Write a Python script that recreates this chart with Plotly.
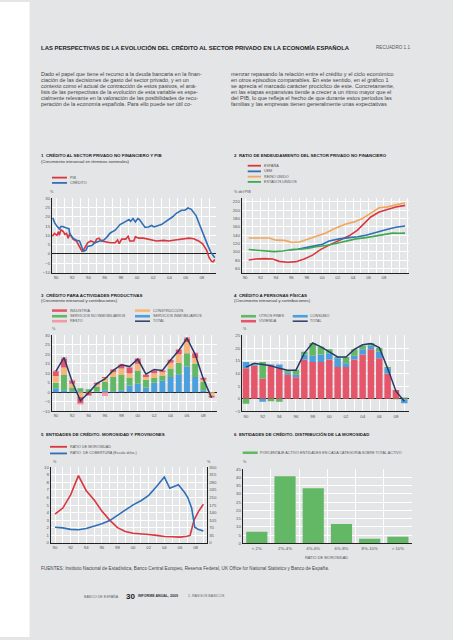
import plotly.graph_objects as go

W, H = 453, 640
def X(px): return px / W
def Y(py): return 1 - py / H

BG = "#e4e5e7"
FONT = "Liberation Sans, Arial, sans-serif"
TXT = "#333333"
TICK = "#555555"
RED = "#d9363e"
BLUE = "#2e6fb5"
ORANGE = "#f2a65a"
GREEN = "#3fa94e"
NAVY = "#2b3a67"
B_BLUE = "#4a9fdc"
B_GREEN = "#62b865"
B_ORANGE = "#f6b679"
B_RED = "#e5566b"
B_PINK = "#f29aa8"

# ---------------- Chart 1 data ----------------
c1_pib_x = [1989.55, 1989.8, 1990.1, 1990.3, 1990.4, 1990.6, 1990.9, 1991.1, 1991.3, 1991.5, 1991.7,
            1992.1, 1992.5, 1992.7, 1993.0, 1993.2, 1993.4, 1993.6, 1993.9, 1994.3, 1994.5, 1994.8,
            1995.0, 1995.3, 1995.6, 1996.1, 1996.7, 1997.3, 1997.6, 1997.8, 1998.1, 1998.6, 1998.9,
            1999.1, 1999.6, 1999.8, 2000.2, 2000.8, 2001.4, 2001.8, 2002.4, 2003.3, 2003.9, 2004.7,
            2005.5, 2006.4, 2007.0, 2007.6, 2008.1, 2008.6, 2008.9, 2009.2, 2009.4, 2009.6]
c1_pib = [9.5, 11, 10, 12, 10, 13, 12, 10.5, 11, 8.5, 11,
          8, 7, 5.5, 2.5, 1.5, 2.2, 4, 6, 7, 6.5, 6,
          8, 8.5, 7, 6.5, 6, 6, 7.5, 5.5, 8, 8, 9.5,
          7, 7, 9.3, 8.5, 8.5, 8, 7.5, 7, 7.3, 7, 7.5,
          8, 8.5, 8.2, 7, 5.5, 2, -2, -4, -4.2, -3]
c1_cred_x = [1989.6, 1989.8, 1990.1, 1990.4, 1990.6, 1990.8, 1991.3, 1991.6, 1991.7, 1992.1, 1992.6,
             1992.9, 1993.2, 1993.4, 1993.7, 1993.9, 1994.4, 1994.8, 1995.4, 1995.9, 1996.3, 1996.7,
             1997.3, 1997.9, 1998.4, 1999.0, 1999.2, 1999.5, 1999.8, 2000.1, 2000.3, 2001.0, 2001.4,
             2001.8, 2002.1, 2002.4, 2003.0, 2003.4, 2003.9, 2004.4, 2004.9, 2005.5, 2005.9, 2006.3,
             2006.7, 2007.3, 2007.7, 2008.2, 2008.7, 2009.1, 2009.5, 2009.6]
c1_cred = [19.5, 17, 15, 13.5, 14.8, 14.8, 14, 13.5, 10.5, 8.5, 7.2,
           7, 3.5, 1.5, 2, 4, 4.5, 6, 7, 7.5, 9.2, 11.3,
           12.8, 15.8, 17, 18.5, 17.5, 19, 17.2, 19, 18.5, 14.3, 14.5,
           15.3, 14.5, 15, 15.8, 17, 18.5, 20, 22, 23.5, 23.5, 24.7,
           24, 20.5, 16, 10, 5, 1, -1.5, -2]

# ---------------- Chart 2 data ----------------
c2_esp_x = [1990.47, 1991.42, 1992.5, 1993.58, 1994.44, 1995.52, 1996.59, 1997.67, 1998.75, 1999.83,
            2000.9, 2002.2, 2003.49, 2004.57, 2005.43, 2006.29, 2007.37, 2008.45, 2009.53, 2010.73]
c2_esp = [80.3, 82.7, 83.5, 82.7, 77, 74.7, 76.3, 82.7, 92, 105.8,
          116, 128, 138.4, 152, 168, 183.8, 195.8, 202, 207.7, 211.7]
c2_uem_x = [1995.73, 1996.81, 1997.89, 1998.97, 2000.04, 2000.9, 2002.2, 2003.49, 2004.57, 2005.65,
            2006.94, 2008.23, 2009.53, 2010.73]
c2_uem = [105, 106, 110, 114, 118, 126, 131, 134, 136, 140, 147, 153, 159, 162]
c2_uk_x = [1990.47, 1991.85, 1993.15, 1994.0, 1995.09, 1996.16, 1997.03, 1998.1, 1999.18, 2000.47,
           2001.77, 2003.06, 2004.14, 2005.22, 2006.29, 2007.37, 2008.45, 2009.53, 2010.73]
c2_uk = [133, 133.5, 133, 128, 127.5, 122.5, 123.5, 130, 136, 145,
         157, 167, 172, 180, 193, 206, 208, 213, 218]
c2_us_x = [1990.47, 1991.64, 1992.72, 1993.79, 1994.87, 1995.95, 1997.03, 1998.1, 1999.18, 2000.47,
           2001.77, 2003.06, 2004.35, 2005.65, 2006.94, 2008.23, 2009.09, 2009.96, 2010.73]
c2_us = [105.5, 104, 101, 100.5, 102, 105, 106, 108, 112, 115,
         120, 125, 131, 134, 138, 143, 145, 144.5, 145]

# ---------------- Chart 3 data ----------------
years = list(range(1990, 2010))
c3_serv_inmob = [2.0, 1.0, 0.5, 0.5, 0.0, 0.3, 1.0, 0.5, 1.0, 3.5, 4.5, 2.5, 5.0, 6.0, 8.0, 9.5, 13.5, 8.0, 1.0, 0.0]
c3_serv_no_inmob = [3.0, 8.0, 2.0, 1.5, 1.5, 2.5, 4.5, 7.5, 8.0, 4.0, 7.0, 4.0, 2.5, 2.5, 4.5, 6.0, 7.0, 7.0, 4.5, 0.0]
c3_construccion = [3.5, 4.0, 2.0, -2.5, 0.0, 1.2, 2.0, 2.5, 3.5, 2.5, 3.5, 1.5, 2.5, 2.0, 3.0, 4.5, 6.0, 3.0, 1.0, -2.0]
c3_industria = [2.5, 4.5, 1.5, -3.5, -1.5, 1.0, 0.5, 1.5, 2.0, 3.0, 2.5, 1.0, 1.5, 1.0, 1.5, 2.3, 2.0, 2.5, 1.0, -0.8]
c3_resto = [0.5, 1.0, 0.5, -0.5, -0.5, 0.3, -2.0, 0.3, 0.5, 0.5, 0.5, 0.3, 0.3, 0.3, 0.3, 0.5, 0.5, 0.5, 0.3, -0.2]
c3_total = [11, 18.3, 5.5, -4.5, -0.3, 4.5, 7, 11.5, 14.5, 13.5, 17.5, 9.5, 12, 11.5, 17, 22, 28.5, 20, 7, -3]

# ---------------- Chart 4 data ----------------
c4_vivienda = [12, 13, 8, 13, 12, 9.5, 8.5, 15.5, 14.5, 14.5, 15.5, 12.5, 12.5, 15.5, 17.5, 19.5, 16, 10, 3.5, -0.3]
c4_consumo = [2.5, 0.5, -1.2, 0.5, 1.5, 0.8, 1.0, 2.0, 2.5, 3.0, 2.5, 3.5, 1.5, 1.5, 2.0, 1.5, 2.5, 2.0, 0.0, -1.5]
c4_otros = [-2.0, 0.5, 6.5, -1.0, -1.2, 1.0, 2.0, 1.0, 5.0, 3.0, 1.5, 0.5, 2.5, 2.5, 1.5, 1.0, 1.5, 0.5, -0.2, 0.5]
c4_total = [12.5, 14, 13.5, 13, 12, 11.3, 11.3, 18, 22, 20.5, 18.5, 16.5, 16.5, 19.5, 21.3, 21.8, 20.2, 12, 3, -1]

# ---------------- Chart 5 data ----------------
c5_mor_x = [1990, 1991, 1992, 1993, 1994, 1995, 1996, 1997, 1998, 1999, 2000, 2001, 2002, 2003,
            2004, 2005, 2006, 2006.9, 2007.3, 2007.8, 2008.4, 2009.0]
c5_mor = [3.8, 4.6, 6.35, 8.9, 6.9, 5.7, 4.2, 3.0, 2.0, 1.5, 1.25, 1.2, 1.1, 0.98,
          0.82, 0.8, 0.75, 0.85, 0.97, 3.0, 4.2, 5.1]
c5_cob_x = [1990, 1991, 1992, 1993, 1994, 1995, 1996, 1997, 1998, 1999, 2000, 2001, 2002, 2003,
            2004, 2004.7, 2005.8, 2006.6, 2007.0, 2007.5, 2007.9, 2008.3, 2009.0]
c5_cob = [72, 69, 62, 60, 66, 77, 88, 103, 127, 152, 176, 195, 220, 261,
          305, 253, 269, 233, 210, 160, 72, 63, 54]

# ---------------- Chart 6 data ----------------
c6_cats = ["< 2%", "2%-4%", "4%-6%", "6%-8%", "8%-10%", "> 10%"]
c6_vals = [7.0, 40.6, 33.4, 11.8, 2.8, 4.0]

x_labels_years = [1990, 1992, 1994, 1996, 1998, 2000, 2002, 2004, 2006, 2008]
x_labels_text = ["90", "92", "94", "96", "98", "00", "02", "04", "06", "08"]

fig = go.Figure()

# traces
fig.add_trace(go.Scatter(x=c1_pib_x, y=c1_pib, mode="lines", line=dict(color=RED, width=1.6), xaxis="x", yaxis="y"))
fig.add_trace(go.Scatter(x=c1_cred_x, y=c1_cred, mode="lines", line=dict(color=BLUE, width=1.6), xaxis="x", yaxis="y"))

fig.add_trace(go.Scatter(x=c2_esp_x, y=c2_esp, mode="lines", line=dict(color=RED, width=1.6), xaxis="x2", yaxis="y2"))
fig.add_trace(go.Scatter(x=c2_uem_x, y=c2_uem, mode="lines", line=dict(color=BLUE, width=1.6), xaxis="x2", yaxis="y2"))
fig.add_trace(go.Scatter(x=c2_uk_x, y=c2_uk, mode="lines", line=dict(color=ORANGE, width=1.6), xaxis="x2", yaxis="y2"))
fig.add_trace(go.Scatter(x=c2_us_x, y=c2_us, mode="lines", line=dict(color=GREEN, width=1.6), xaxis="x2", yaxis="y2"))

for vals, col in [(c3_serv_inmob, B_BLUE), (c3_serv_no_inmob, B_GREEN), (c3_construccion, B_ORANGE),
                  (c3_industria, B_RED), (c3_resto, B_PINK)]:
    fig.add_trace(go.Bar(x=years, y=vals, marker=dict(color=col, line=dict(width=0)), width=0.72,
                         xaxis="x3", yaxis="y3"))
fig.add_trace(go.Scatter(x=years, y=c3_total, mode="lines", line=dict(color=NAVY, width=1.5), xaxis="x3", yaxis="y3"))

for vals, col in [(c4_vivienda, B_RED), (c4_consumo, B_BLUE), (c4_otros, B_GREEN)]:
    fig.add_trace(go.Bar(x=years, y=vals, marker=dict(color=col, line=dict(width=0)), width=0.78,
                         xaxis="x4", yaxis="y4"))
fig.add_trace(go.Scatter(x=years, y=c4_total, mode="lines", line=dict(color=NAVY, width=1.5), xaxis="x4", yaxis="y4"))

fig.add_trace(go.Scatter(x=c5_mor_x, y=c5_mor, mode="lines", line=dict(color=RED, width=1.6), xaxis="x5", yaxis="y5"))
fig.add_trace(go.Scatter(x=c5_cob_x, y=c5_cob, mode="lines", line=dict(color=BLUE, width=1.6), xaxis="x5", yaxis="y7"))

fig.add_trace(go.Bar(x=c6_cats, y=c6_vals, marker=dict(color=B_GREEN, line=dict(width=0)), width=0.75,
                     xaxis="x6", yaxis="y6"))

tickfont = dict(family=FONT, size=4.3, color=TICK)

def xax(dom, rng, anchor, tv=None, tt=None, minor=True):
    d = dict(domain=[X(dom[0]), X(dom[1])], range=rng, anchor=anchor, showgrid=True, gridcolor="white",
             gridwidth=1, showline=True, linecolor="#222", linewidth=1, zeroline=False, ticks="",
             tickfont=tickfont, fixedrange=True)
    if tv is not None:
        d.update(tickmode="array", tickvals=tv, ticktext=tt)
    if minor:
        d["minor"] = dict(tick0=1990, dtick=1, showgrid=True, gridcolor="white", gridwidth=1, ticks="")
    return d

def yax(dom, rng, dtick, anchor, zero=False):
    return dict(domain=[Y(dom[1]), Y(dom[0])], range=rng, dtick=dtick, anchor=anchor, showgrid=True,
                gridcolor="white", gridwidth=1, showline=True, linecolor="#222", linewidth=1,
                zeroline=zero, zerolinecolor="#222", zerolinewidth=1, ticks="", tickfont=tickfont,
                fixedrange=True)

layout = dict(
    width=W, height=H, margin=dict(l=0, r=0, t=0, b=0), autosize=False,
    paper_bgcolor=BG, plot_bgcolor=BG, showlegend=False, barmode="relative", bargap=0.25,
    font=dict(family=FONT, color=TXT),
    xaxis=xax((52, 216), [1989.5, 2009.75], "y", x_labels_years, x_labels_text),
    yaxis=yax((197.7, 272.7), [-10, 30], 5, "x", zero=True),
    xaxis2=xax((241.7, 408.7), [1989.57, 2011.2], "y2", x_labels_years, x_labels_text),
    yaxis2=yax((197.3, 272.7), [50, 230], 20, "x2"),
    xaxis3=xax((51.7, 217.3), [1989.5, 2009.7], "y3", x_labels_years, x_labels_text),
    yaxis3=yax((336, 412.3), [-10, 30], 5, "x3", zero=True),
    xaxis4=xax((242, 408.7), [1989.52, 2009.53], "y4", x_labels_years, x_labels_text),
    yaxis4=yax((336, 412.7), [-5, 25], 5, "x4", zero=True),
    xaxis5=xax((50.7, 207.3), [1989.45, 2009.5], "y5", x_labels_years, x_labels_text),
    yaxis5=yax((469, 545), [0, 10], 1, "x5"),
    xaxis6=dict(domain=[X(242.7), X(412)], type="category", range=[-0.5, 5.5], anchor="y6",
                showgrid=True, gridcolor="white", gridwidth=1, tickson="boundaries", showline=True,
                linecolor="#222", linewidth=1, ticks="", tickfont=tickfont, fixedrange=True),
    yaxis6=yax((470.7, 545.7), [0, 45], 5, "x6"),
)
layout["yaxis7"] = dict(overlaying="y5", side="right", anchor="x5", range=[0, 350], tickmode="array",
                        tickvals=[0, 35, 70, 105, 140, 175, 210, 245, 280, 315, 350], showgrid=False,
                        showline=True, linecolor="#222", linewidth=1, zeroline=False, ticks="",
                        tickfont=tickfont, fixedrange=True)
fig.update_layout(**layout)

ann = []
shapes = []

def text(x, y, s, size, color=TXT, bold=False, xanchor="left"):
    ann.append(dict(x=X(x), y=Y(y), xref="paper", yref="paper", text=("<b>%s</b>" % s) if bold else s,
                    showarrow=False, xanchor=xanchor, yanchor="middle",
                    font=dict(family=FONT, size=size, color=color), borderpad=0))

def lsw(x0, x1, y, color, w=1.8):
    shapes.append(dict(type="line", xref="paper", yref="paper", x0=X(x0), x1=X(x1), y0=Y(y), y1=Y(y),
                       line=dict(color=color, width=w)))

def bsw(x0, x1, y, color):
    shapes.append(dict(type="rect", xref="paper", yref="paper", x0=X(x0), x1=X(x1), y0=Y(y - 1.3),
                       y1=Y(y + 1.3), fillcolor=color, line=dict(width=0)))

# white margin strip
shapes.append(dict(type="rect", xref="paper", yref="paper", x0=0, x1=X(29.5), y0=0, y1=1,
                   fillcolor="white", line=dict(width=0), layer="below"))

# header
text(40, 45.7, "LAS PERSPECTIVAS DE LA EVOLUCIÓN DEL CRÉDITO AL SECTOR PRIVADO EN LA ECONOMÍA ESPAÑOLA", 5.95, "#222", True)
text(410.7, 45.7, "RECUADRO 1.1", 4.6, "#555", xanchor="right")

left_lines = [
    "Dado el papel que tiene el recurso a la deuda bancaria en la finan-",
    "ciación de las decisiones de gasto del sector privado, y en un",
    "contexto como el actual de contracción de estos pasivos, el aná-",
    "lisis de las perspectivas de la evolución de esta variable es espe-",
    "cialmente relevante en la valoración de las posibilidades de recu-",
    "peración de la economía española. Para ello puede ser útil co-",
]
right_lines = [
    "menzar repasando la relación entre el crédito y el ciclo económico",
    "en otros episodios comparables. En este sentido, en el gráfico 1",
    "se aprecia el marcado carácter procíclico de este. Concretamente,",
    "en las etapas expansivas tiende a crecer a un ritmo mayor que el",
    "del PIB, lo que refleja el hecho de que durante estos períodos las",
    "familias y las empresas tienen generalmente unas expectativas",
]
for i, s in enumerate(left_lines):
    text(40, 72.7 + i * 6.07, s, 5.45, "#444")
for i, s in enumerate(right_lines):
    text(230, 72.7 + i * 6.07, s, 5.55, "#444")

# chart 1
text(40, 155, "1  CRÉDITO AL SECTOR PRIVADO NO FINANCIERO Y PIB", 4.4, "#222", True)
text(40, 160.5, "(Crecimiento interanual en términos nominales)", 4.2, "#333")
lsw(52, 67, 177, RED); text(69, 177, "PIB", 3.7, "#555")
lsw(52, 67, 182.3, BLUE); text(69, 182.3, "CRÉDITO", 3.7, "#555")
text(49, 191.7, "%", 3.8, "#555")

# chart 2
text(232.7, 155, "2  RATIO DE ENDEUDAMIENTO DEL SECTOR PRIVADO NO FINANCIERO", 4.4, "#222", True)
for yy, col, lab in [(165, RED, "ESPAÑA"), (170.7, BLUE, "UEM"), (176, ORANGE, "REINO UNIDO"), (181.3, GREEN, "ESTADOS UNIDOS")]:
    lsw(247.7, 261, yy, col); text(263.3, yy, lab, 3.7, "#555")
text(233.3, 191.7, "% del PIB", 3.8, "#555")

# chart 3
text(40, 295.7, "3  CRÉDITO PARA ACTIVIDADES PRODUCTIVAS", 4.4, "#222", True)
text(40, 300.5, "(Crecimiento interanual y contribuciones)", 4.2, "#333")
bsw(52, 67, 311, B_RED); text(69, 311, "INDUSTRIA", 3.7, "#555")
bsw(135, 150, 311, B_ORANGE); text(151.7, 311, "CONSTRUCCIÓN", 3.7, "#555")
bsw(52, 67, 316.7, B_GREEN); text(69, 316.7, "SERVICIOS NO INMOBILIARIOS", 3.7, "#555")
bsw(135, 150, 316.7, B_BLUE); text(151.7, 316.7, "SERVICIOS INMOBILIARIOS", 3.7, "#555")
bsw(52, 67, 321.7, B_PINK); text(69, 321.7, "RESTO", 3.7, "#555")
lsw(135, 150, 321.7, NAVY, 1.5); text(151.7, 321.7, "TOTAL", 3.7, "#555")
text(51, 330, "%", 3.8, "#555")

# chart 4
text(232.7, 295.7, "4  CRÉDITO A PERSONAS FÍSICAS", 4.4, "#222", True)
text(232.7, 300.5, "(Crecimiento interanual y contribuciones)", 4.2, "#333")
bsw(241, 256, 316.7, B_GREEN); text(258.3, 316.7, "OTROS FINES", 3.7, "#555")
bsw(292.7, 307.7, 316.7, B_BLUE); text(309.3, 316.7, "CONSUMO", 3.7, "#555")
bsw(241, 256, 321.7, B_RED); text(258.3, 321.7, "VIVIENDA", 3.7, "#555")
lsw(292.7, 307.7, 321.7, NAVY, 1.5); text(309.3, 321.7, "TOTAL", 3.7, "#555")
text(241.7, 330, "%", 3.8, "#555")

# chart 5
text(40, 435.7, "5  ENTIDADES DE CRÉDITO. MOROSIDAD Y PROVISIONES", 4.4, "#222", True)
lsw(50, 67, 448.3, RED); text(68.5, 448.3, "RATIO DE MOROSIDAD", 3.7, "#555")
lsw(50, 67, 455, BLUE); text(68.5, 455, "RATIO  DE COBERTURA (Escala dcha.)", 3.7, "#555")
text(51.7, 464, "%", 3.8, "#555")
text(206, 464, "%", 3.8, "#555")

# chart 6
text(232.7, 435.7, "6  ENTIDADES DE CRÉDITO. DISTRIBUCIÓN DE LA MOROSIDAD", 4.4, "#222", True)
bsw(242.7, 257.7, 454.3, B_GREEN)
text(259.3, 454.3, "PORCENTAJE ACTIVO ENTIDADES EN CADA CATEGORÍA SOBRE TOTAL ACTIVO", 3.7, "#555")
text(241.7, 464, "%", 3.8, "#555")
text(326, 560, "RATIO DE MOROSIDAD", 3.9, "#555", xanchor="center")

# sources and footer
text(40, 571, "FUENTES: Instituto Nacional de Estadística, Banco Central Europeo, Reserva Federal, UK Office for National Statistics y Banco de España.", 4.65, "#444")
text(83.3, 599, "BANCO DE ESPAÑA", 3.6, "#666")
text(124.5, 599, "30", 8, "#222", True)
text(136.7, 599, "INFORME ANUAL, 2009", 3.6, "#333", True)
text(186.7, 599, "1. RASGOS BÁSICOS", 3.6, "#666")

fig.update_layout(annotations=ann, shapes=shapes)

fig.write_html("out.html", config={"displayModeBar": False, "staticPlot": True},
               post_script="document.body.style.margin='0';document.body.style.overflow='hidden';")
